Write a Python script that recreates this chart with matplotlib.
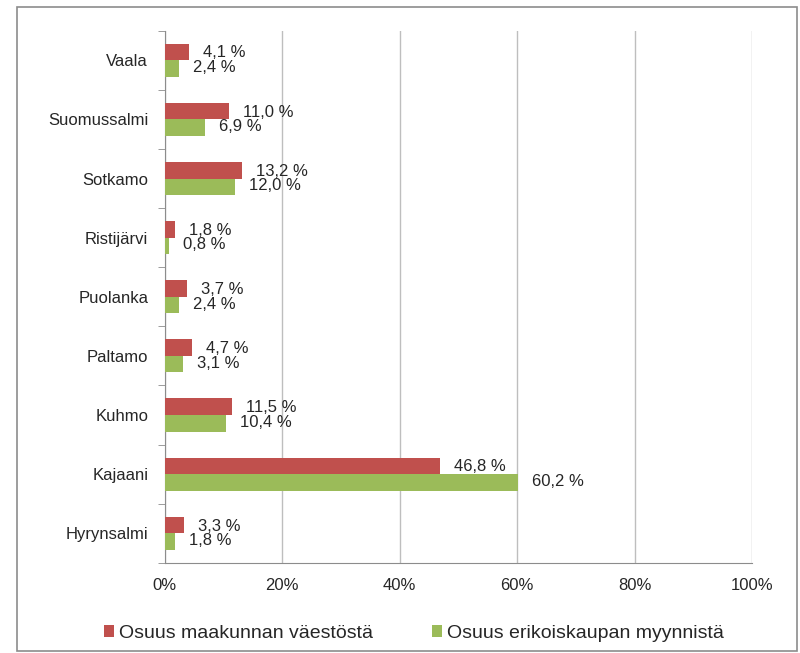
import numpy as np
import matplotlib.pyplot as plt
from matplotlib.patches import Rectangle

# data, bottom to top as drawn
kunnat = ["Hyrynsalmi", "Kajaani", "Kuhmo", "Paltamo", "Puolanka",
          "Ristijärvi", "Sotkamo", "Suomussalmi", "Vaala"]
vaesto = [3.3, 46.8, 11.5, 4.7, 3.7, 1.8, 13.2, 11.0, 4.1]
myynti = [1.8, 60.2, 10.4, 3.1, 2.4, 0.8, 12.0, 6.9, 2.4]
x_ticks = [0, 20, 40, 60, 80, 100]

red = "#C0504D"
green = "#9BBB59"
grid_col = "#BEBEBE"

plt.rcParams['font.family'] = ['Liberation Sans', 'DejaVu Sans']

fig = plt.figure(figsize=(8, 6.53), dpi=100)
ax = fig.add_axes([0.206, 0.138, 0.734, 0.815])

# chart frame
fig.patches.append(Rectangle((17 / 800, 2 / 653), 780 / 800, 644 / 653,
                             transform=fig.transFigure, fill=False,
                             edgecolor="#8C8C8C", linewidth=1.2))

y = np.arange(len(kunnat))
h = 0.28
ax.barh(y + h / 2, vaesto, height=h, color=red, label="Osuus maakunnan väestöstä", zorder=3)
ax.barh(y - h / 2, myynti, height=h, color=green, label="Osuus erikoiskaupan myynnistä", zorder=3)

for i in range(len(kunnat)):
    ax.annotate(f"{vaesto[i]:.1f} %".replace(".", ","), (vaesto[i], y[i] + h / 2),
                xytext=(14, -1), textcoords="offset pixels", va="center", ha="left",
                fontsize=12, color="#262626", zorder=4)
    ax.annotate(f"{myynti[i]:.1f} %".replace(".", ","), (myynti[i], y[i] - h / 2),
                xytext=(14, 1), textcoords="offset pixels", va="center", ha="left",
                fontsize=12, color="#262626", zorder=4)

ax.set_xlim(0, 100)
ax.set_ylim(-0.5, len(kunnat) - 0.5)
ax.set_xticks(x_ticks)
ax.set_xticklabels([f"{t}%" for t in x_ticks], fontsize=12, color="#262626")
ax.set_yticks(y)
ax.set_yticklabels(kunnat, fontsize=12, color="#262626")
ax.tick_params(axis="y", length=0, pad=12)
ax.tick_params(axis="x", length=0, pad=11)
# small ticks between categories
ax.set_yticks(np.arange(-0.5, len(kunnat), 1), minor=True)
ax.tick_params(axis="y", which="minor", length=5, color="#8C8C8C")
ax.set_xticks(x_ticks, minor=True)
ax.tick_params(axis="x", which="minor", length=5, color="#8C8C8C", direction="out")

ax.grid(axis="x", color=grid_col, linewidth=1, zorder=0)
for s in ["top", "right"]:
    ax.spines[s].set_visible(False)
for s in ["left", "bottom"]:
    ax.spines[s].set_color("#8C8C8C")

ax.legend(loc="upper center", bbox_to_anchor=(0.424, -0.083), ncol=2, frameon=False,
          fontsize=14, handlelength=0.55, handleheight=0.55, handletextpad=0.25,
          columnspacing=3.0, labelcolor="#262626")

fig.savefig("out.png", dpi=100)
